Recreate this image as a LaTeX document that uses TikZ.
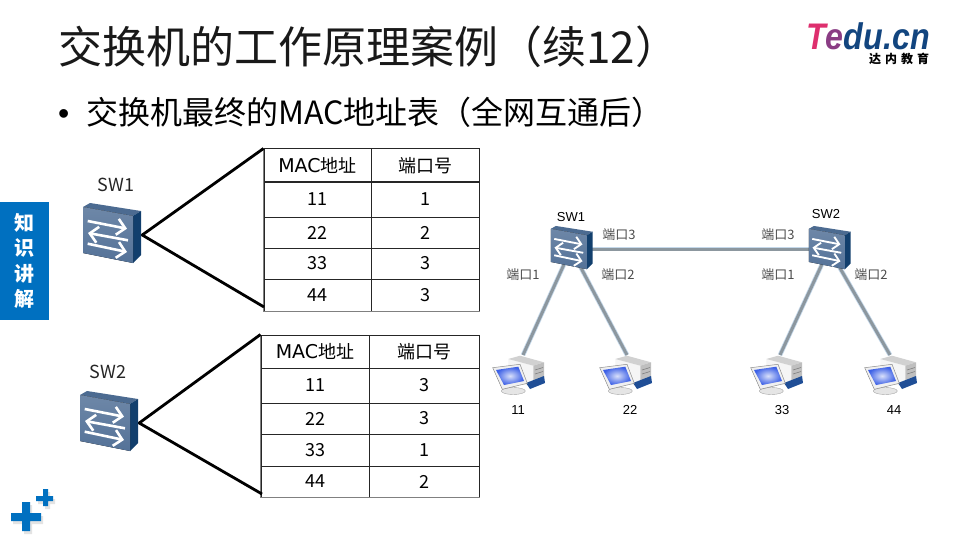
\documentclass[tikz,border=0pt]{standalone}
\usepackage{fontspec}
\setmainfont{Noto Sans CJK SC}
\newfontfamily\arialfont{Liberation Sans}
\newfontfamily\macfont{DejaVu Sans}
\usetikzlibrary{arrows.meta,shadows}
\definecolor{cblue}{HTML}{0070C0}
\definecolor{cnavy}{HTML}{12457F}
\definecolor{cpink}{HTML}{DE2F6E}
\definecolor{cmauve}{HTML}{8A3C84}
\definecolor{clink}{HTML}{8C979F}
\definecolor{chalo}{HTML}{C4D8EA}
\definecolor{cfront}{HTML}{547298}
\definecolor{ctop}{HTML}{4C6B91}
\definecolor{cside}{HTML}{123F6D}
\definecolor{cscreen}{HTML}{3C60E6}
\definecolor{cbase}{HTML}{1F4E96}
\newcommand{\macword}{{\macfont\fontsize{19}{22}\selectfont MAC}地址}
\begin{document}
\begin{tikzpicture}[
  x=1pt,y=-1pt,
  title/.style={anchor=west,inner sep=0pt,text=black!90,font=\fontsize{44}{50}\selectfont},
  bullet/.style={anchor=west,inner sep=0pt,font=\fontsize{32}{38}\selectfont},
  cell/.style 2 args={draw=black!85,line width=1pt,inner sep=0pt,minimum width=#1,
    minimum height=#2,font=\fontsize{18}{22}\selectfont},
  swname/.style={inner sep=0pt,text=black!85,font=\fontsize{18}{22}\selectfont},
  tag/.style={inner sep=0pt,text=black!70,font=\fontsize{13}{16}\selectfont},
  small/.style={inner sep=0pt,font=\arialfont\fontsize{13}{16}\selectfont},
  fan/.style={draw=black,line width=2.8pt},
  link/.style={draw=clink,line width=3pt,preaction={draw=chalo,line width=4.6pt}},
  swbox/.style={inner sep=0pt,minimum width=#1,minimum height=#1},
  plusmark/.style={fill=cblue,drop shadow={shadow xshift=2pt,shadow yshift=-3pt,fill=black!22}},
  pics/swicon/.style={code={
    \begin{scope}[scale=#1,shift={(-28,-28)}]
      \fill[ctop] (0,0) -- (7,-4) -- (58,4) -- (50,9) -- cycle;
      \fill[cside] (50,9) -- (58,4) -- (58,48) -- (50,56) -- cycle;
      \fill[top color=cfront!85!white,bottom color=cfront] (0,0) -- (50,9) -- (50,56) -- (0,46) -- cycle;
      \draw[white,line width=2.6pt*#1,-{Straight Barb[scale=1.2]}] (4.7,14) -- (44,21.7);
      \draw[white,line width=2.6pt*#1,-{Straight Barb[scale=1.2]}] (45,33.3) -- (5,26);
      \draw[white,line width=2.6pt*#1,-{Straight Barb[scale=1.2]}] (4.7,36.7) -- (44,45);
    \end{scope}}},
  pics/pcicon/.style={code={
    \fill[black!4] (18.3,14) -- (43.3,20.7) -- (43.3,42) -- (18.3,36) -- cycle;
    \fill[black!18] (18.3,14) -- (30,10.7) -- (54,17.3) -- (43.3,20.7) -- cycle;
    \fill[black!25] (43.3,20.7) -- (54,17.3) -- (54,36) -- (43.3,40) -- cycle;
    \draw[black!50,line width=.6pt] (45,25) -- (53,22.5) (45,29) -- (53,26.5);
    \fill[cbase] (36,38) -- (54,31) -- (55,38) -- (40,44) -- cycle;
    \fill[black!10,draw=black!35,line width=.4pt] (23.3,46) ellipse (12 and 3.5);
    \fill[black!6,draw=black!45,line width=.5pt] (2.7,22.7) -- (30,19.3) -- (37.3,38.3) -- (12.3,44.3) -- cycle;
    \shade[inner color=cscreen!20!white,outer color=cscreen] (6,25) -- (28.3,21.7) -- (34,36) -- (14,40) -- cycle;
  }}]
  \useasboundingbox (0,0) rectangle (960,540);
  \node[title] (heading) at (58,47) {交换机的工作原理案例（续12）};
  \node[bullet] (subhead) at (58,112) {\makebox[28pt][l]{\arialfont •}交换机最终的MAC地址表（全网互通后）};
  \node[inner sep=0pt,text depth=0pt,xscale=.87,transform shape,font=\arialfont\bfseries\itshape\fontsize{37}{40}\selectfont] (logo) at (868,36)
    {\textcolor{cpink}{T}\textcolor{cmauve}{e}\textcolor{cnavy}{du.cn}};
  \node[inner sep=0pt,text height=9pt,text depth=1pt,font=\bfseries\fontsize{12}{14}\selectfont] (logosub) at (899,59.5) {达\kern4pt 内\kern4pt 教\kern4pt 育};
  \node[fill=cblue,minimum width=49,minimum height=118,inner sep=0pt,text=white,align=center,
    font=\bfseries\fontsize{20}{25.5}\selectfont] (side) at (24.5,261) {知\\识\\讲\\解};

  \node[swname] (lsw1name) at (116,185) {SW1};
  \node[swname] (lsw2name) at (108,372) {SW2};
  \node[swbox=62] (lsw1) at (111,235) {};
  \node[swbox=62] (lsw2) at (108,423) {};

  \node[cell={107}{33}] (ah) at (317.5,165.5) {\macword};
  \node[cell={108}{33}] (ap) at (425,165.5) {端口号};
  \node[cell={107}{35}] (a1) at (317.5,199.5) {11};
  \node[cell={108}{35}] (b1) at (425,199.5) {1};
  \node[cell={107}{31}] (a2) at (317.5,232.5) {22};
  \node[cell={108}{31}] (b2) at (425,232.5) {2};
  \node[cell={107}{31}] (a3) at (317.5,263.5) {33};
  \node[cell={108}{31}] (b3) at (425,263.5) {3};
  \node[cell={107}{32}] (a4) at (317.5,295) {44};
  \node[cell={108}{32}] (b4) at (425,295) {3};

  \node[cell={108}{33}] (ch) at (315,351.5) {\macword};
  \node[cell={110}{33}] (cp) at (424,351.5) {端口号};
  \node[cell={108}{35}] (c1) at (315,385.5) {11};
  \node[cell={110}{35}] (d1) at (424,385.5) {3};
  \node[cell={108}{31}] (c2) at (315,418.5) {22};
  \node[cell={110}{31}] (d2) at (424,418.5) {3};
  \node[cell={108}{32}] (c3) at (315,450) {33};
  \node[cell={110}{32}] (d3) at (424,450) {1};
  \node[cell={108}{31}] (c4) at (315,481.5) {44};
  \node[cell={110}{31}] (d4) at (424,481.5) {2};

  \draw[black!50,line width=1.2pt] (ah.north west) -- (a4.south west) -- (b4.south east);
  \draw[black!50,line width=1.2pt] (ch.north west) -- (c4.south west) -- (d4.south east);
  \coordinate (alow) at (264,307);
  \coordinate (clow) at (262,494);
  \draw[fan] (ah.north west) -- (lsw1.east) -- (alow);
  \draw[fan] (ch.north west) -- (lsw2.east) -- (clow);
  \pic at (lsw1) {swicon=1};
  \pic at (lsw2) {swicon=1};

  \node[swbox=40] (sw1) at (571,249) {};
  \node[swbox=40] (sw2) at (829,249) {};
  \coordinate (pc11) at (523,355);
  \coordinate (pc22) at (627,355);
  \coordinate (pc33) at (780,355);
  \coordinate (pc44) at (890,355);
  \draw[link] (sw1.center) -- (sw2.center);
  \draw[link] (sw1.center) -- (pc11);
  \draw[link] (sw1.center) -- (pc22);
  \draw[link] (sw2.center) -- (pc33);
  \draw[link] (sw2.center) -- (pc44);
  \pic at (sw1) {swicon=.72};
  \pic at (sw2) {swicon=.72};
  \pic at (490,345) {pcicon};
  \pic at (597,345) {pcicon};
  \pic at (748,345) {pcicon};
  \pic at (862,345) {pcicon};

  \node[small] (sw1name) at (571,217) {SW1};
  \node[small] (sw2name) at (826,214) {SW2};
  \node[tag] (p3a) at (619,235) {端口3};
  \node[tag] (p1a) at (523,275) {端口1};
  \node[tag] (p2a) at (618,275) {端口2};
  \node[tag] (p3b) at (778,235) {端口3};
  \node[tag] (p1b) at (778,275) {端口1};
  \node[tag] (p2b) at (871,275) {端口2};
  \node[small] (host11) at (518,410) {11};
  \node[small] (host22) at (630,410) {22};
  \node[small] (host33) at (782,410) {33};
  \node[small] (host44) at (894,410) {44};

  \fill[plusmark] (22,502) -- (30,502) -- (30,513) -- (41,513) -- (41,521) -- (30,521) -- (30,531)
    -- (22,531) -- (22,521) -- (11,521) -- (11,513) -- (22,513) -- cycle;
  \fill[plusmark] (43,489) -- (48,489) -- (48,496) -- (53,496) -- (53,501) -- (48,501) -- (48,506)
    -- (43,506) -- (43,501) -- (36,501) -- (36,496) -- (43,496) -- cycle;
\end{tikzpicture}
\end{document}
